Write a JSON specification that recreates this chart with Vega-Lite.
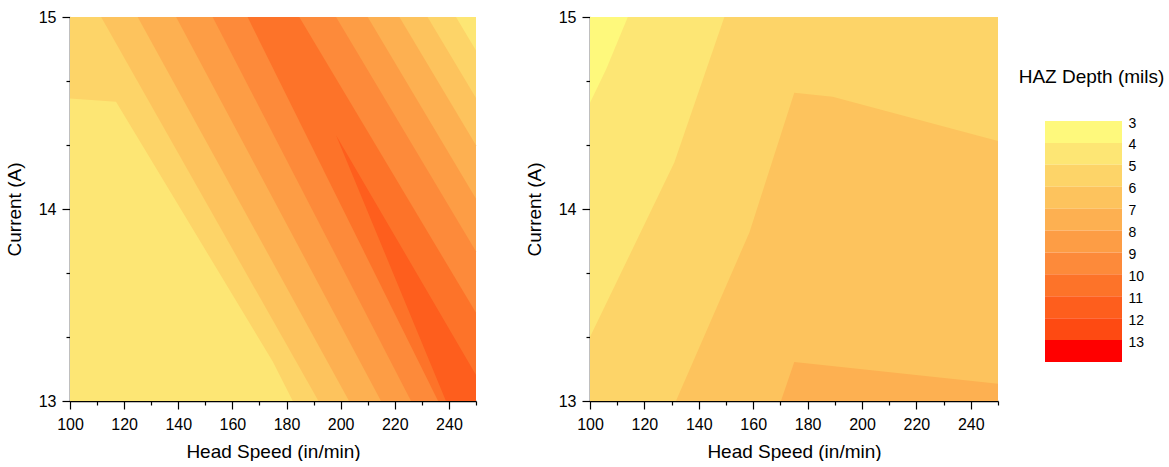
{
  "$schema": "https://vega.github.io/schema/vega-lite/v6.json",
  "padding": {"left": 5, "top": 9, "right": 0, "bottom": 0},
  "background": "white",
  "bounds": "flush",
  "spacing": 114,
  "config": {
    "view": {"stroke": null},
    "axis": {
      "domainColor": "black", "domainWidth": 1.5, "tickColor": "black", "tickWidth": 1.2,
      "labelColor": "black", "labelFont": "Liberation Sans", "labelFontSize": 16,
      "titleFont": "Liberation Sans", "titleFontSize": 19, "titleFontWeight": "normal", "titleColor": "black",
      "grid": false, "labelOverlap": false, "labelFlush": false
    }
  },
  "hconcat": [
    {
      "width": 406, "height": 384,
      "data": {"values": [
        {"level": 4, "i": 0, "speed": 100, "current": 15},
        {"level": 4, "i": 1, "speed": 250, "current": 15},
        {"level": 4, "i": 2, "speed": 250, "current": 13},
        {"level": 4, "i": 3, "speed": 100, "current": 13},
        {"level": 5, "i": 0, "speed": 100, "current": 15},
        {"level": 5, "i": 1, "speed": 242.6, "current": 15},
        {"level": 5, "i": 2, "speed": 250, "current": 14.825},
        {"level": 5, "i": 3, "speed": 250, "current": 13},
        {"level": 5, "i": 4, "speed": 182.3, "current": 13},
        {"level": 5, "i": 5, "speed": 174.9, "current": 13.206},
        {"level": 5, "i": 6, "speed": 117.0, "current": 14.558},
        {"level": 5, "i": 7, "speed": 100, "current": 14.576},
        {"level": 6, "i": 0, "speed": 111.5, "current": 15},
        {"level": 6, "i": 1, "speed": 232.1, "current": 15},
        {"level": 6, "i": 2, "speed": 250, "current": 14.578},
        {"level": 6, "i": 3, "speed": 250, "current": 13},
        {"level": 6, "i": 4, "speed": 191.8, "current": 13},
        {"level": 7, "i": 0, "speed": 125.0, "current": 15},
        {"level": 7, "i": 1, "speed": 221.7, "current": 15},
        {"level": 7, "i": 2, "speed": 250, "current": 14.332},
        {"level": 7, "i": 3, "speed": 250, "current": 13},
        {"level": 7, "i": 4, "speed": 203.1, "current": 13},
        {"level": 8, "i": 0, "speed": 139.2, "current": 15},
        {"level": 8, "i": 1, "speed": 210.0, "current": 15},
        {"level": 8, "i": 2, "speed": 250, "current": 14.054},
        {"level": 8, "i": 3, "speed": 250, "current": 13},
        {"level": 8, "i": 4, "speed": 214.9, "current": 13},
        {"level": 9, "i": 0, "speed": 152.7, "current": 15},
        {"level": 9, "i": 1, "speed": 198.3, "current": 15},
        {"level": 9, "i": 2, "speed": 250, "current": 13.778},
        {"level": 9, "i": 3, "speed": 250, "current": 13},
        {"level": 9, "i": 4, "speed": 226.0, "current": 13},
        {"level": 10, "i": 0, "speed": 165.6, "current": 15},
        {"level": 10, "i": 1, "speed": 184.7, "current": 15},
        {"level": 10, "i": 2, "speed": 250, "current": 13.459},
        {"level": 10, "i": 3, "speed": 250, "current": 13},
        {"level": 10, "i": 4, "speed": 236.0, "current": 13},
        {"level": 11, "i": 0, "speed": 198.3, "current": 14.384},
        {"level": 11, "i": 1, "speed": 250, "current": 13.136},
        {"level": 11, "i": 2, "speed": 250, "current": 13},
        {"level": 11, "i": 3, "speed": 238.9, "current": 13}
      ]},
      "mark": {"type": "line", "interpolate": "linear-closed", "strokeWidth": 0},
      "encoding": {
        "x": {"field": "speed", "type": "quantitative", "scale": {"domain": [100, 250], "nice": false, "zero": false},
          "axis": {"title": "Head Speed (in/min)", "values": [100,110,120,130,140,150,160,170,180,190,200,210,220,230,240,250],
            "labelExpr": "datum.value % 20 === 0 ? datum.label : ''",
            "tickSize": {"condition": {"test": "datum.value % 20 === 0", "value": 8}, "value": 4},
            "labelPadding": 7, "titlePadding": 10}},
        "y": {"field": "current", "type": "quantitative", "scale": {"domain": [13, 15], "nice": false, "zero": false},
          "axis": {"title": "Current (A)", "values": [13, 13.3333, 13.6667, 14, 14.3333, 14.6667, 15], "format": ".0f",
            "labelExpr": "abs(datum.value - round(datum.value)) < 0.01 ? datum.label : ''",
            "tickSize": {"condition": {"test": "abs(datum.value - round(datum.value)) < 0.01", "value": 8}, "value": 4},
            "labelPadding": 6, "titlePadding": 14}},
        "order": {"field": "i", "type": "quantitative"},
        "fill": {"field": "level", "type": "ordinal", "legend": null,
          "scale": {"domain": [3,4,5,6,7,8,9,10,11,12,13],
            "range": ["#FEF97C","#FDE674","#FDD468","#FDC35D","#FDB051","#FD9D45","#FD8A3A","#FD7329","#FE5E1D","#FE4A12","#FF0000"]}}
      }
    },
    {
      "bounds": "flush",
      "spacing": 47,
      "hconcat": [
        {
          "width": 408, "height": 384,
          "data": {"values": [
            {"level": 3, "i": 0, "speed": 100, "current": 15},
            {"level": 3, "i": 1, "speed": 250, "current": 15},
            {"level": 3, "i": 2, "speed": 250, "current": 13},
            {"level": 3, "i": 3, "speed": 100, "current": 13},
            {"level": 4, "i": 0, "speed": 113.9, "current": 15},
            {"level": 4, "i": 1, "speed": 250, "current": 15},
            {"level": 4, "i": 2, "speed": 250, "current": 13},
            {"level": 4, "i": 3, "speed": 100, "current": 13},
            {"level": 4, "i": 4, "speed": 100, "current": 14.553},
            {"level": 4, "i": 5, "speed": 105.9, "current": 14.726},
            {"level": 5, "i": 0, "speed": 149.4, "current": 15},
            {"level": 5, "i": 1, "speed": 250, "current": 15},
            {"level": 5, "i": 2, "speed": 250, "current": 13},
            {"level": 5, "i": 3, "speed": 100, "current": 13},
            {"level": 5, "i": 4, "speed": 100, "current": 13.333},
            {"level": 5, "i": 5, "speed": 131.0, "current": 14.242},
            {"level": 6, "i": 0, "speed": 175.1, "current": 14.605},
            {"level": 6, "i": 1, "speed": 189.2, "current": 14.584},
            {"level": 6, "i": 2, "speed": 250, "current": 14.354},
            {"level": 6, "i": 3, "speed": 250, "current": 13},
            {"level": 6, "i": 4, "speed": 131.6, "current": 13},
            {"level": 6, "i": 5, "speed": 158.6, "current": 13.878},
            {"level": 7, "i": 0, "speed": 175.1, "current": 13.203},
            {"level": 7, "i": 1, "speed": 250, "current": 13.09},
            {"level": 7, "i": 2, "speed": 250, "current": 13},
            {"level": 7, "i": 3, "speed": 170.2, "current": 13}
          ]},
          "mark": {"type": "line", "interpolate": "linear-closed", "strokeWidth": 0},
          "encoding": {
            "x": {"field": "speed", "type": "quantitative", "scale": {"domain": [100, 250], "nice": false, "zero": false},
              "axis": {"title": "Head Speed (in/min)", "values": [100,110,120,130,140,150,160,170,180,190,200,210,220,230,240,250],
                "labelExpr": "datum.value % 20 === 0 ? datum.label : ''",
                "tickSize": {"condition": {"test": "datum.value % 20 === 0", "value": 8}, "value": 4},
                "labelPadding": 7, "titlePadding": 10}},
            "y": {"field": "current", "type": "quantitative", "scale": {"domain": [13, 15], "nice": false, "zero": false},
              "axis": {"title": "Current (A)", "values": [13, 13.3333, 13.6667, 14, 14.3333, 14.6667, 15], "format": ".0f",
                "labelExpr": "abs(datum.value - round(datum.value)) < 0.01 ? datum.label : ''",
                "tickSize": {"condition": {"test": "abs(datum.value - round(datum.value)) < 0.01", "value": 8}, "value": 4},
                "labelPadding": 6, "titlePadding": 14}},
            "order": {"field": "i", "type": "quantitative"},
            "fill": {"field": "level", "type": "ordinal", "legend": null,
              "scale": {"domain": [3,4,5,6,7,8,9,10,11,12,13],
                "range": ["#FEF97C","#FDE674","#FDD468","#FDC35D","#FDB051","#FD9D45","#FD8A3A","#FD7329","#FE5E1D","#FE4A12","#FF0000"]}}
          }
        },
        {
          "width": 77, "height": 384,
          "title": {"text": "HAZ Depth (mils)", "font": "Liberation Sans", "fontSize": 19, "fontWeight": "normal", "color": "black", "offset": -70, "dx": 8},
          "data": {"values": [
            {"level": 3, "lo": 3, "hi": 4},
            {"level": 4, "lo": 4, "hi": 5},
            {"level": 5, "lo": 5, "hi": 6},
            {"level": 6, "lo": 6, "hi": 7},
            {"level": 7, "lo": 7, "hi": 8},
            {"level": 8, "lo": 8, "hi": 9},
            {"level": 9, "lo": 9, "hi": 10},
            {"level": 10, "lo": 10, "hi": 11},
            {"level": 11, "lo": 11, "hi": 12},
            {"level": 12, "lo": 12, "hi": 13},
            {"level": 13, "lo": 13, "hi": 14}
          ]},
          "mark": {"type": "rect"},
          "encoding": {
            "y": {"field": "lo", "type": "quantitative", "scale": {"domain": [-1.747, 15.78], "reverse": true, "nice": false, "zero": false},
              "axis": {"orient": "right", "title": null, "values": [3,4,5,6,7,8,9,10,11,12,13], "domain": false, "ticks": false,
                "labelPadding": 6, "labelFontSize": 14, "labelOffset": 2}},
            "y2": {"field": "hi"},
            "fill": {"field": "level", "type": "ordinal", "legend": null,
              "scale": {"domain": [3,4,5,6,7,8,9,10,11,12,13],
                "range": ["#FEF97C","#FDE674","#FDD468","#FDC35D","#FDB051","#FD9D45","#FD8A3A","#FD7329","#FE5E1D","#FE4A12","#FF0000"]}}
          }
        }
      ]
    }
  ]
}
